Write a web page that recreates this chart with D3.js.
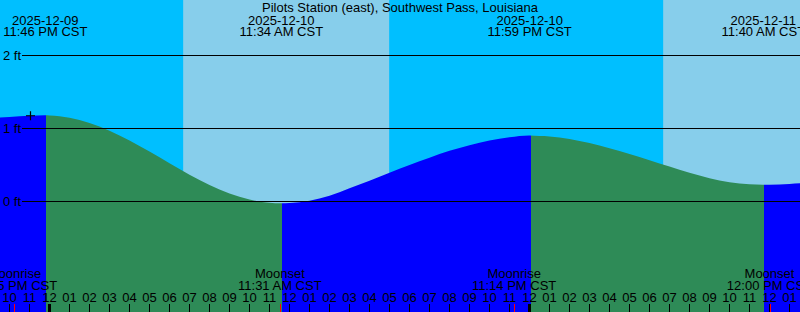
<!DOCTYPE html>
<html>
<head>
<meta charset="utf-8">
<script src="https://cdn.jsdelivr.net/npm/d3@7"></script>
<style>
  html, body { margin: 0; padding: 0; background: #fff; }
  svg { display: block; }
  text { font-family: "Liberation Sans", Arial, sans-serif; font-size: 13px; fill: #000; }
</style>
</head>
<body>
<svg id="chart" width="800" height="312"></svg>
<script>
// ---------------- data ----------------
const title = "Pilots Station (east), Southwest Pass, Louisiana";
const viewStart = "2025-12-09 21:31:30";
const viewEnd = "2025-12-11 13:31:30";

// hourly predicted water level (ft)
const hourTimes = [
  "2025-12-09 21:00","2025-12-09 22:00","2025-12-09 23:00",
  "2025-12-10 00:00","2025-12-10 01:00","2025-12-10 02:00","2025-12-10 03:00",
  "2025-12-10 04:00","2025-12-10 05:00","2025-12-10 06:00","2025-12-10 07:00",
  "2025-12-10 08:00","2025-12-10 09:00","2025-12-10 10:00","2025-12-10 11:00",
  "2025-12-10 12:00","2025-12-10 13:00","2025-12-10 14:00","2025-12-10 15:00",
  "2025-12-10 16:00","2025-12-10 17:00","2025-12-10 18:00","2025-12-10 19:00",
  "2025-12-10 20:00","2025-12-10 21:00","2025-12-10 22:00","2025-12-10 23:00",
  "2025-12-11 00:00","2025-12-11 01:00","2025-12-11 02:00","2025-12-11 03:00",
  "2025-12-11 04:00","2025-12-11 05:00","2025-12-11 06:00","2025-12-11 07:00",
  "2025-12-11 08:00","2025-12-11 09:00","2025-12-11 10:00","2025-12-11 11:00",
  "2025-12-11 12:00","2025-12-11 13:00","2025-12-11 14:00"
];
const hourHeights = [
  1.140, 1.158, 1.174,
  1.179, 1.148, 1.077, 0.970,
  0.837, 0.684, 0.524, 0.368,
  0.227, 0.110, 0.027, -0.018,
  -0.022, 0.011, 0.078, 0.180,
  0.285, 0.393, 0.500, 0.600,
  0.695, 0.772, 0.836, 0.880,
  0.903, 0.891, 0.856, 0.800,
  0.730, 0.650, 0.565, 0.478,
  0.393, 0.320, 0.265, 0.235,
  0.230, 0.240, 0.258
];

// high / low tides
const extremeTimes = ["2025-12-09 23:46","2025-12-10 11:34","2025-12-10 23:59","2025-12-11 11:40"];
const extremeHeights = [1.18, -0.025, 0.904, 0.229];
const extremeTypes = ["H","L","H","L"];
const extremeDateLabels = ["2025-12-09","2025-12-10","2025-12-10","2025-12-11"];
const extremeTimeLabels = ["11:46 PM CST","11:34 AM CST","11:59 PM CST","11:40 AM CST"];

// daylight
const sunriseTimes = ["2025-12-10 06:41","2025-12-11 06:41"];
const sunsetTimes  = ["2025-12-10 16:59","2025-12-11 16:59"];

// moon
const moonTimes = ["2025-12-09 22:15","2025-12-10 11:31","2025-12-10 23:14","2025-12-11 12:00"];
const moonEvents = ["Moonrise","Moonset","Moonrise","Moonset"];
const moonTimeLabels = ["10:15 PM CST","11:31 AM CST","11:14 PM CST","12:00 PM CST"];

// marker
const markerTime = "2025-12-09 23:03";
const markerHeight = 1.175;

const yTicks = [0, 1, 2];
const yTickLabels = ["0 ft", "1 ft", "2 ft"];

// ---------------- drawing ----------------
const W = 800, H = 312;
const parse = d3.timeParse("%Y-%m-%d %H:%M");
const parseS = d3.timeParse("%Y-%m-%d %H:%M:%S");

const x = d3.scaleTime().domain([parseS(viewStart), parseS(viewEnd)]).range([0, W]);
const y = d3.scaleLinear().domain([0, 2]).range([201.5, 55.5]);

const svg = d3.select("#chart");

// sky
svg.append("rect").attr("x", 0).attr("y", 0).attr("width", W).attr("height", H).attr("fill", "#00bfff");
svg.selectAll("rect.day").data(sunriseTimes).join("rect")
  .attr("class", "day")
  .attr("x", d => x(parse(d)))
  .attr("y", 0)
  .attr("width", (d, i) => Math.min(W, x(parse(sunsetTimes[i]))) - x(parse(d)))
  .attr("height", H)
  .attr("fill", "#87ceeb");

// tide data (hourly + extremes)
const pts = hourTimes.map((t, i) => ({ t: parse(t), h: hourHeights[i] }))
  .concat(extremeTimes.map((t, i) => ({ t: parse(t), h: extremeHeights[i] })))
  .sort((a, b) => a.t - b.t);

const area = d3.area()
  .x(d => x(d.t))
  .y0(H)
  .y1(d => y(d.h))
  .curve(d3.curveMonotoneX);

svg.append("clipPath").attr("id", "tideClip")
  .append("path").attr("d", area(pts));

// segments coloured by rising / falling
const bounds = [x.domain()[0]].concat(extremeTimes.map(parse)).concat([x.domain()[1]]);
const segs = [];
for (let i = 0; i < bounds.length - 1; i++) {
  const nextType = i < extremeTypes.length ? extremeTypes[i] : (extremeTypes[extremeTypes.length - 1] === "H" ? "L" : "H");
  segs.push({ a: bounds[i], b: bounds[i + 1], rising: nextType === "H", first: i === 0, last: i === bounds.length - 2 });
}
const segX = d => d.first ? x(d.a) : Math.ceil(x(d.a)) + 1;
const g = svg.append("g").attr("clip-path", "url(#tideClip)");
g.selectAll("rect").data(segs).join("rect")
  .attr("x", d => segX(d))
  .attr("y", 0)
  .attr("width", d => (d.last ? x(d.b) : Math.ceil(x(d.b)) + 1) - segX(d))
  .attr("height", H)
  .attr("fill", d => d.rising ? "#0000ff" : "#2e8b57");

// horizontal grid lines
svg.selectAll("line.grid").data(yTicks).join("line")
  .attr("class", "grid")
  .attr("x1", 22).attr("x2", W)
  .attr("y1", d => y(d)).attr("y2", d => y(d))
  .attr("stroke", "#000").attr("stroke-width", 1);
svg.selectAll("text.ylab").data(yTicks).join("text")
  .attr("class", "ylab")
  .attr("x", 3).attr("y", d => y(d)).attr("dy", "0.35em")
  .text((d, i) => yTickLabels[i]);

// plus marker
const mx = x(parse(markerTime)), my = y(markerHeight);
svg.append("path")
  .attr("d", `M${mx - 4.5},${my}H${mx + 4.5}M${mx},${my - 4.5}V${my + 4.5}`)
  .attr("stroke", "#000").attr("stroke-width", 1.2).attr("fill", "none");

// title
svg.append("text").attr("x", W / 2).attr("y", 12).attr("text-anchor", "middle").text(title);

// high / low labels
const ext = svg.selectAll("g.ext").data(extremeTimes).join("g").attr("class", "ext");
ext.append("text").attr("x", d => x(parse(d)) + 0.5).attr("y", 24.5).attr("text-anchor", "middle")
  .text((d, i) => extremeDateLabels[i]);
ext.append("text").attr("x", d => x(parse(d)) + 0.5).attr("y", 36).attr("text-anchor", "middle")
  .text((d, i) => extremeTimeLabels[i]);

// moon labels
const moon = svg.selectAll("g.moon").data(moonTimes).join("g").attr("class", "moon");
moon.append("text").attr("x", d => x(parse(d))).attr("y", 278).attr("text-anchor", "middle")
  .text((d, i) => moonEvents[i]);
moon.append("text").attr("x", d => x(parse(d))).attr("y", 289.5).attr("text-anchor", "middle")
  .text((d, i) => moonTimeLabels[i]);

// hour axis
const axis = d3.axisTop(x)
  .ticks(d3.timeHour.every(1))
  .tickFormat(d3.timeFormat("%I"))
  .tickSizeInner(8).tickSizeOuter(0).tickPadding(2);
if (axis.offset) axis.offset(0);
const ax = svg.append("g").attr("transform", `translate(0,${H})`).call(axis);
ax.select(".domain").remove();
ax.attr("font-family", null).attr("font-size", null);
ax.selectAll(".tick line").attr("stroke", "#000")
  .attr("stroke-width", d => d.getHours() === 0 ? 3 : 1);
ax.selectAll(".tick text").attr("fill", "#000");

// moon ticks
svg.selectAll("line.moontick").data(moonTimes).join("line")
  .attr("class", "moontick")
  .attr("x1", d => Math.round(x(parse(d))) + 0.5).attr("x2", d => Math.round(x(parse(d))) + 0.5)
  .attr("y1", H - 8).attr("y2", H)
  .attr("stroke", "#ff0000").attr("stroke-width", 1);
</script>
</body>
</html>
